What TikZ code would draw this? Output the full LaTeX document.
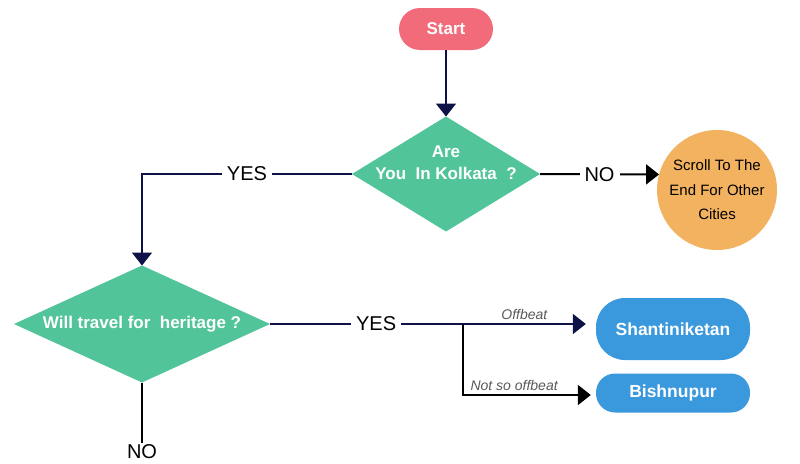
\documentclass[tikz,border=0pt]{standalone}
\usepackage{fontspec}
\setmainfont{Liberation Sans}
\usetikzlibrary{arrows.meta, shapes.geometric, calc}

\definecolor{startred}{HTML}{F26B7A}
\definecolor{decgreen}{HTML}{52C49A}
\definecolor{cityorange}{HTML}{F2B25F}
\definecolor{placeblue}{HTML}{3A98DD}
\definecolor{navy}{HTML}{0D1347}

\tikzset{
  startbox/.style={rectangle, rounded corners=21pt, fill=startred, minimum width=94pt, minimum height=42pt, text=white, font=\fontsize{17}{20}\selectfont\bfseries},
  decision/.style={diamond, fill=decgreen, inner sep=0pt, outer sep=0pt},
  decisiontext/.style={text=white, align=center, font=\fontsize{17}{22}\selectfont\bfseries},
  placebox/.style={rectangle, fill=placeblue, minimum width=154pt, text=white, font=\fontsize{17.5}{20}\selectfont\bfseries},
  cityball/.style={circle, fill=cityorange, minimum size=120pt, inner sep=0pt, outer sep=0pt, align=center, font=\fontsize{15}{24.5}\selectfont},
  flow/.style={line width=2pt, draw=navy},
  tip/.style={-{Triangle[length=13pt, width=20pt]}},
  branch/.style={fill=white, inner sep=5pt, font=\fontsize{20}{24}\selectfont},
  choice/.style={text=black!65, inner sep=3pt, font=\fontsize{14}{16}\selectfont\itshape}
}

\begin{document}
\begin{tikzpicture}[x=1pt, y=-1pt]
  \useasboundingbox (0,0) rectangle (800,463);

  \node[startbox] (start) at (446,29) {Start};
  \node[decision, minimum width=188pt, minimum height=115pt,
        label={[decisiontext, yshift=11pt]center:Are\\You\ \ In Kolkata\ \ ?}] (kolkata) at (446,174) {};
  \node[cityball] (other) at (717,190) {Scroll To The\\End For Other\\Cities};
  \node[decision, minimum width=256pt, minimum height=117pt,
        label={[decisiontext]center:Will travel for\ \ heritage ?}] (heritage) at (142,324) {};
  \node[placebox, minimum height=62pt, rounded corners=29pt] (shanti) at (673,329) {Shantiniketan};
  \node[placebox, minimum height=39pt, rounded corners=19pt] (bishnu) at (673,393) {Bishnupur};
  \node[branch, inner sep=2pt] (no2) at (142,452) {NO};

  \coordinate (turn) at (142,174);
  \coordinate (split) at (463,324);

  % main flow
  \draw[flow, tip] (start) -- (kolkata.north);
  \draw[flow, tip] (kolkata.west) -- node[branch] {YES} (turn) -- (heritage.north);
  \draw[line width=2pt, tip] (kolkata.east) -- node[branch] {NO} (other.165);
  \draw[line width=2pt] (heritage.south) -- (no2.north);

  % heritage choices
  \draw[flow] (heritage.east) -- node[branch, pos=0.55] {YES} (split);
  \draw[flow, tip] (split) -- node[choice, above] {Offbeat} ([xshift=-10pt]shanti.west |- split);
  \draw[line width=2pt, tip] (split) |- node[choice, above, pos=0.7] {Not so offbeat} ([xshift=-5pt]bishnu.west |- 0,395);
\end{tikzpicture}
\end{document}
